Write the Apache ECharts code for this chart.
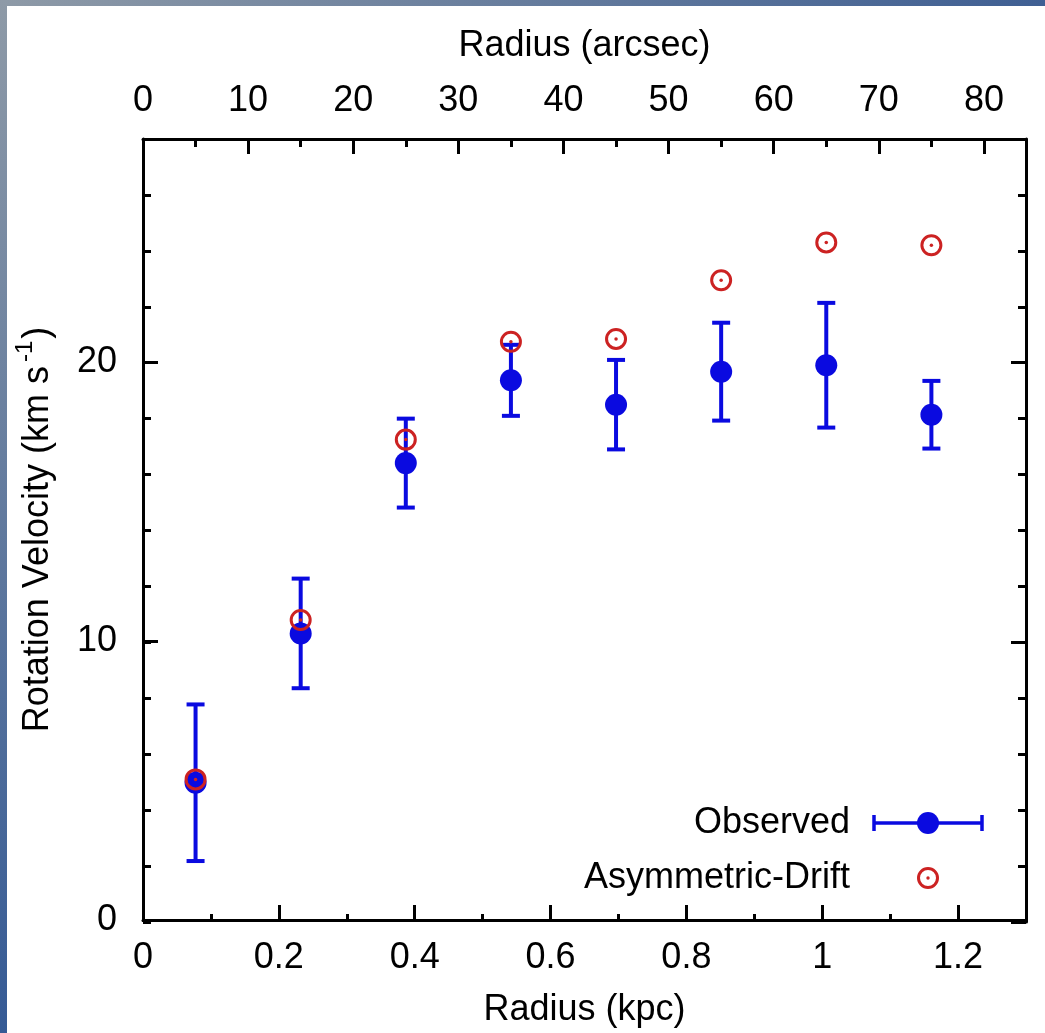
<!DOCTYPE html>
<html><head><meta charset="utf-8">
<script src="https://cdn.jsdelivr.net/npm/echarts@6/dist/echarts.min.js"></script>
<style>html,body{margin:0;padding:0;background:#fff}#c{width:1045px;height:1033px}</style>
</head><body><div id="c"></div>
<script>
// ---- data ----
const radiusArcsec = [5, 15, 25, 35, 45, 55, 65, 75];
const observedVelocity = [4.98, 10.32, 16.41, 19.37, 18.5, 19.68, 19.91, 18.14];
const observedError = [2.8, 1.96, 1.59, 1.27, 1.6, 1.75, 2.23, 1.21];
const asymDriftVelocity = [5.1, 10.8, 17.25, 20.75, 20.85, 22.95, 24.3, 24.2];
const legendLabels = ['Observed', 'Asymmetric-Drift'];
const xTitleBottom = 'Radius (kpc)';
const xTitleTop = 'Radius (arcsec)';
const yTitle = 'Rotation Velocity (km s{sup|-1})';

const BLUE = '#0a0ae0';
const RED = '#cc2222';
const FONT = '"Liberation Sans", Arial, Helvetica, sans-serif';
const FS = 36;

const chart = echarts.init(document.getElementById('c'), null, {renderer: 'canvas'});

const gridBox = {left: 143, right: 19, top: 139, bottom: 111, containLabel: false};
function isMult(v, step) { return Math.abs(v / step - Math.round(v / step)) < 1e-6; }
const lineBlack = {color: '#000', width: 3};
const labelStyle = {color: '#000', fontSize: FS, fontFamily: FONT};

function axisBase(extra) {
  return Object.assign({
    type: 'value',
    splitLine: {show: false},
    axisLine: {show: false, onZero: false},
    axisTick: {show: true, inside: true, length: 15, lineStyle: lineBlack},
    axisLabel: {show: false}
  }, extra);
}

const xAxes = [
  axisBase({gridIndex: 0, position: 'bottom', min: 0, max: 1.3, interval: 0.2,
    axisLine: {show: true, onZero: false, lineStyle: lineBlack},
    axisLabel: Object.assign({show: true, margin: 20,
      formatter: v => isMult(v, 0.2) ? String(+v.toFixed(1)) : ''}, labelStyle),
    name: xTitleBottom, nameLocation: 'middle', nameGap: 72,
    nameTextStyle: labelStyle}),
  axisBase({gridIndex: 1, position: 'bottom', min: 0, max: 1.3, interval: 0.1,
    axisTick: {show: true, inside: true, length: 8, lineStyle: lineBlack}}),
  axisBase({gridIndex: 2, position: 'top', min: 0, max: 84, interval: 10,
    axisLine: {show: true, onZero: false, lineStyle: lineBlack},
    axisLabel: Object.assign({show: true, margin: 20,
      formatter: v => isMult(v, 10) ? String(Math.round(v)) : ''}, labelStyle),
    name: xTitleTop, nameLocation: 'middle', nameGap: 75,
    nameTextStyle: labelStyle}),
  axisBase({gridIndex: 3, position: 'top', min: 0, max: 84, interval: 5,
    axisTick: {show: true, inside: true, length: 8, lineStyle: lineBlack}})
];

const yAxes = [
  axisBase({gridIndex: 0, position: 'left', min: 0, max: 28, interval: 10,
    axisLine: {show: true, onZero: false, lineStyle: lineBlack},
    axisLabel: Object.assign({show: true, margin: 26,
      formatter: v => isMult(v, 10) ? String(Math.round(v)) : ''}, labelStyle),
    name: yTitle, nameLocation: 'middle', nameGap: 80, nameRotate: 90,
    nameTextStyle: Object.assign({}, labelStyle, {
      rich: {sup: {fontSize: 24, fontFamily: FONT, color: '#000', verticalAlign: 'bottom', padding: [0, 2, 26, 4]}}
    })}),
  axisBase({gridIndex: 1, position: 'left', min: 0, max: 28, interval: 2,
    axisTick: {show: true, inside: true, length: 8, lineStyle: lineBlack}}),
  axisBase({gridIndex: 2, position: 'right', min: 0, max: 28, interval: 10,
    axisLine: {show: true, onZero: false, lineStyle: lineBlack}}),
  axisBase({gridIndex: 3, position: 'right', min: 0, max: 28, interval: 2,
    axisTick: {show: true, inside: true, length: 8, lineStyle: lineBlack}})
];

const errData = radiusArcsec.map((r, i) => [r, observedVelocity[i] - observedError[i], observedVelocity[i] + observedError[i]]);
const obsData = radiusArcsec.map((r, i) => [r, observedVelocity[i]]);
const adData = radiusArcsec.map((r, i) => [r, asymDriftVelocity[i]]);

const option = {
  backgroundColor: '#fff',
  animation: false,
  grid: [gridBox, gridBox, gridBox, gridBox].map(g => Object.assign({}, g)),
  xAxis: xAxes,
  yAxis: yAxes,
  series: [
    {
      type: 'custom', xAxisIndex: 2, yAxisIndex: 2, z: 2,
      data: errData, encode: {x: 0, y: [1, 2]},
      renderItem: function (params, api) {
        const x = api.value(0);
        const pLo = api.coord([x, api.value(1)]);
        const pHi = api.coord([x, api.value(2)]);
        const cap = 9;
        const st = {stroke: BLUE, lineWidth: 4};
        return {type: 'group', children: [
          {type: 'line', shape: {x1: pLo[0], y1: pLo[1], x2: pHi[0], y2: pHi[1]}, style: st},
          {type: 'line', shape: {x1: pLo[0] - cap, y1: pLo[1], x2: pLo[0] + cap, y2: pLo[1]}, style: st},
          {type: 'line', shape: {x1: pHi[0] - cap, y1: pHi[1], x2: pHi[0] + cap, y2: pHi[1]}, style: st}
        ]};
      }
    },
    {
      type: 'scatter', xAxisIndex: 2, yAxisIndex: 2, z: 3,
      data: obsData, symbol: 'circle', symbolSize: 22,
      itemStyle: {color: BLUE, opacity: 1}
    },
    {
      type: 'scatter', xAxisIndex: 2, yAxisIndex: 2, z: 4,
      data: adData, symbol: 'circle', symbolSize: 19,
      itemStyle: {color: 'rgba(0,0,0,0)', borderColor: RED, borderWidth: 3, opacity: 1}
    },
    {
      type: 'scatter', xAxisIndex: 2, yAxisIndex: 2, z: 5,
      data: adData, symbol: 'circle', symbolSize: 3.5,
      itemStyle: {color: RED, opacity: 1}
    }
  ],
  graphic: [
    {type: 'rect', z: 100, shape: {x: 0, y: 0, width: 1045, height: 6},
      style: {fill: new echarts.graphic.LinearGradient(0, 0, 1, 0, [
        {offset: 0, color: '#8e9aa7'}, {offset: 1, color: '#3f5f93'}])}},
    {type: 'rect', z: 100, shape: {x: 0, y: 0, width: 7, height: 1033},
      style: {fill: new echarts.graphic.LinearGradient(0, 0, 0, 1, [
        {offset: 0, color: '#8e9aa7'}, {offset: 1, color: '#355a95'}])}},
    {type: 'text', z: 50, x: 850, y: 823, style: {text: legendLabels[0], font: FS + 'px ' + FONT, fill: '#000', align: 'right', verticalAlign: 'middle'}},
    {type: 'text', z: 50, x: 850, y: 878, style: {text: legendLabels[1], font: FS + 'px ' + FONT, fill: '#000', align: 'right', verticalAlign: 'middle'}},
    {type: 'line', z: 50, shape: {x1: 874, y1: 823, x2: 982, y2: 823}, style: {stroke: BLUE, lineWidth: 3.5}},
    {type: 'line', z: 50, shape: {x1: 874, y1: 815, x2: 874, y2: 831}, style: {stroke: BLUE, lineWidth: 3.5}},
    {type: 'line', z: 50, shape: {x1: 982, y1: 815, x2: 982, y2: 831}, style: {stroke: BLUE, lineWidth: 3.5}},
    {type: 'circle', z: 51, shape: {cx: 928, cy: 823, r: 11}, style: {fill: BLUE}},
    {type: 'circle', z: 51, shape: {cx: 928, cy: 878, r: 9.5}, style: {fill: 'none', stroke: RED, lineWidth: 3}},
    {type: 'circle', z: 51, shape: {cx: 928, cy: 878, r: 1.7}, style: {fill: RED}}
  ]
};
chart.setOption(option);
</script></body></html>
